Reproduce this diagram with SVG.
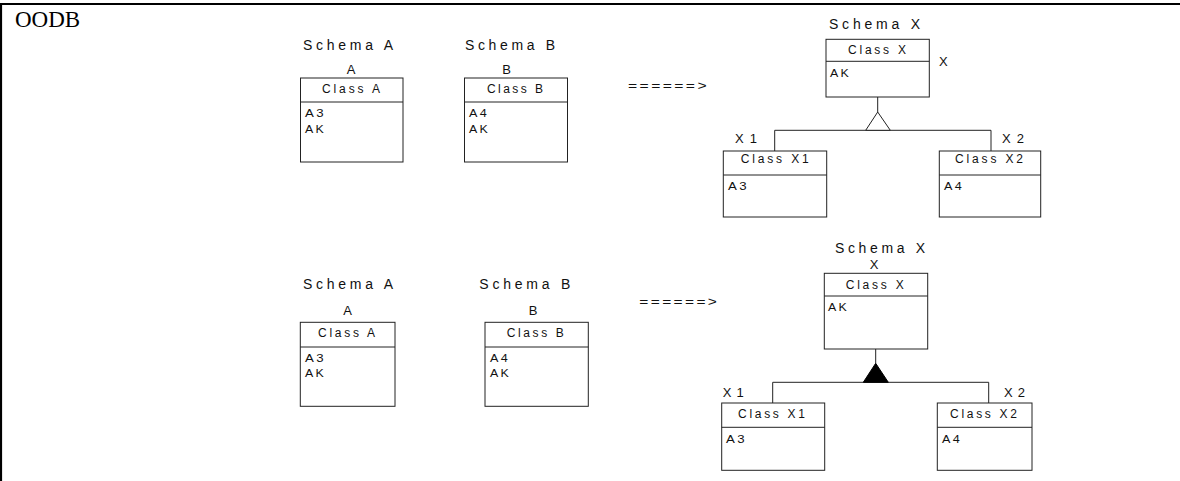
<svg xmlns="http://www.w3.org/2000/svg" width="1180" height="481" viewBox="0 0 1180 481">
<style>
text{font-family:"Liberation Sans",Arial,sans-serif;fill:#111}
.title{font-family:"Liberation Serif","Times New Roman",serif;font-size:23px;fill:#000}
.schema{font-size:14px}
.lbl{font-size:13px}
.cls{font-size:12px}
.att{font-size:11px;letter-spacing:2px}
.arr{font-size:13px;letter-spacing:2px}
.box{fill:#fff;stroke:#222;stroke-width:1}
.ln{stroke:#222;stroke-width:1;fill:none}
.frame{stroke:#000;stroke-width:2.2;fill:none}
</style>
<rect width="1180" height="481" fill="#fff"/>
<g id="frame">
<line class="frame" x1="0" y1="4" x2="1180" y2="4"/>
<line class="frame" x1="1" y1="3" x2="1" y2="481"/>
<text class="title" x="15" y="27">OODB</text>
</g>

<!-- top section -->
<g id="schemaA1">
<text class="schema" x="303" y="49.5" textLength="90">Schema A</text>
<text class="lbl" x="351" y="74" text-anchor="middle">A</text>
<rect class="box" x="300.5" y="78" width="102.5" height="84"/>
<line class="ln" x1="300.5" y1="102" x2="403" y2="102"/>
<text class="cls" x="322" y="93" textLength="58">Class A</text>
<text class="att" x="305" y="117" textLength="21" lengthAdjust="spacingAndGlyphs">A3</text>
<text class="att" x="305" y="132.5" textLength="21" lengthAdjust="spacingAndGlyphs">AK</text>
</g>
<g id="schemaB1">
<text class="schema" x="465" y="49.5" textLength="90">Schema B</text>
<text class="lbl" x="506.5" y="74" text-anchor="middle">B</text>
<rect class="box" x="464.5" y="78" width="103" height="84"/>
<line class="ln" x1="464.5" y1="102" x2="567.5" y2="102"/>
<text class="cls" x="487" y="93" textLength="56">Class B</text>
<text class="att" x="469" y="117" textLength="20" lengthAdjust="spacingAndGlyphs">A4</text>
<text class="att" x="469" y="132.5" textLength="21" lengthAdjust="spacingAndGlyphs">AK</text>
</g>
<g id="arrow1">
<text class="arr" x="628" y="90" textLength="81" lengthAdjust="spacingAndGlyphs">======&gt;</text>
</g>
<g id="schemaX1">
<text class="schema" x="829" y="29" textLength="91">Schema X</text>
<rect class="box" x="826" y="39.3" width="103.3" height="57.7"/>
<line class="ln" x1="826" y1="61.3" x2="929.3" y2="61.3"/>
<text class="cls" x="848" y="54" textLength="58">Class X</text>
<text class="lbl" x="939" y="66">X</text>
<text class="att" x="830" y="77" textLength="21" lengthAdjust="spacingAndGlyphs">AK</text>
</g>
<g id="classX1_1">
<text class="lbl" x="735" y="143" textLength="22">X1</text>
<rect class="box" x="723.3" y="151" width="103.4" height="66"/>
<line class="ln" x1="723.3" y1="175" x2="826.7" y2="175"/>
<text class="cls" x="740.7" y="163" textLength="68">Class X1</text>
<text class="att" x="728" y="190" textLength="21" lengthAdjust="spacingAndGlyphs">A3</text>
</g>
<g id="classX2_1">
<text class="lbl" x="1002" y="143" textLength="22">X2</text>
<rect class="box" x="939.3" y="151" width="101.4" height="66"/>
<line class="ln" x1="939.3" y1="175" x2="1040.7" y2="175"/>
<text class="cls" x="955" y="163" textLength="68">Class X2</text>
<text class="att" x="944" y="190" textLength="20" lengthAdjust="spacingAndGlyphs">A4</text>
</g>

<!-- bottom section -->
<g id="schemaA2">
<text class="schema" x="303" y="289" textLength="90">Schema A</text>
<text class="lbl" x="347.5" y="315" text-anchor="middle">A</text>
<rect class="box" x="300.3" y="322.3" width="94.7" height="84"/>
<line class="ln" x1="300.3" y1="347" x2="395" y2="347"/>
<text class="cls" x="318" y="337" textLength="57">Class A</text>
<text class="att" x="305" y="362" textLength="21" lengthAdjust="spacingAndGlyphs">A3</text>
<text class="att" x="305" y="377" textLength="21" lengthAdjust="spacingAndGlyphs">AK</text>
</g>
<g id="schemaB2">
<text class="schema" x="479.3" y="289" textLength="91">Schema B</text>
<text class="lbl" x="533" y="315" text-anchor="middle">B</text>
<rect class="box" x="485" y="322.3" width="103.3" height="84"/>
<line class="ln" x1="485" y1="347" x2="588.3" y2="347"/>
<text class="cls" x="506.7" y="337" textLength="57">Class B</text>
<text class="att" x="490" y="362" textLength="20" lengthAdjust="spacingAndGlyphs">A4</text>
<text class="att" x="490" y="377" textLength="21" lengthAdjust="spacingAndGlyphs">AK</text>
</g>
<g id="arrow2">
<text class="arr" x="639.3" y="306" textLength="80" lengthAdjust="spacingAndGlyphs">======&gt;</text>
</g>
<g id="schemaX2">
<text class="schema" x="835" y="253" textLength="90">Schema X</text>
<text class="lbl" x="874" y="269" text-anchor="middle">X</text>
<rect class="box" x="824.3" y="273.3" width="103.4" height="75.7"/>
<line class="ln" x1="824.3" y1="296" x2="927.7" y2="296"/>
<text class="cls" x="845.7" y="289" textLength="58">Class X</text>
<text class="att" x="828" y="311" textLength="21" lengthAdjust="spacingAndGlyphs">AK</text>
</g>
<g id="classX1_2">
<text class="lbl" x="722.7" y="396.7" textLength="21">X1</text>
<rect class="box" x="721.7" y="403" width="103" height="67.3"/>
<line class="ln" x1="721.7" y1="427.3" x2="824.7" y2="427.3"/>
<text class="cls" x="738" y="418" textLength="67">Class X1</text>
<text class="att" x="726" y="442.7" textLength="21" lengthAdjust="spacingAndGlyphs">A3</text>
</g>
<g id="classX2_2">
<text class="lbl" x="1004" y="396.7" textLength="21">X2</text>
<rect class="box" x="937.3" y="403" width="94.7" height="67.3"/>
<line class="ln" x1="937.3" y1="427.3" x2="1032" y2="427.3"/>
<text class="cls" x="950" y="418" textLength="67">Class X2</text>
<text class="att" x="942" y="442.7" textLength="20" lengthAdjust="spacingAndGlyphs">A4</text>
</g>

<g id="connectors">
<path class="ln" d="M877.7 97 V112"/>
<path class="ln" d="M774.7 151 V130.3 H991 V151"/>
<polygon points="877.7,112 865.7,130.3 890.3,130.3" fill="#fff" stroke="#222" stroke-width="1"/>
<path class="ln" d="M875.7 349 V363.3"/>
<path class="ln" d="M772.7 403 V382.3 H988.7 V403"/>
<polygon points="875.7,363.3 863.3,382.3 888.3,382.3" fill="#000" stroke="#000" stroke-width="1"/>
</g>
</svg>
